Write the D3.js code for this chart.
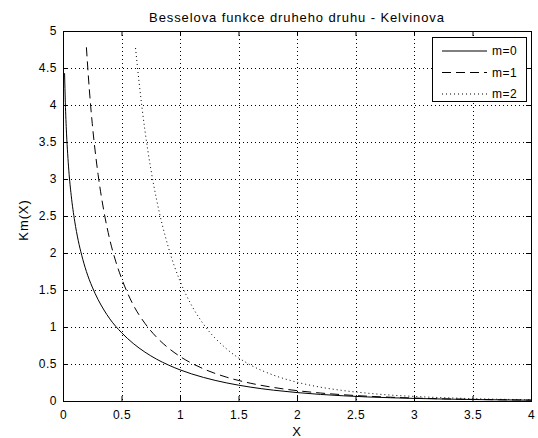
<!DOCTYPE html>
<html>
<head>
<meta charset="utf-8">
<script src="https://cdn.jsdelivr.net/npm/d3@7"></script>
<style>
  body { margin: 0; background: #fff; }
  svg text { font-family: "Liberation Sans", Arial, sans-serif; fill: #000; }
</style>
</head>
<body>
<script>
// values
var x0 = [0.0134, 0.02, 0.03, 0.04, 0.05, 0.07, 0.1, 0.13, 0.16, 0.2, 0.25, 0.3, 0.35, 0.4, 0.5,
          0.6, 0.7, 0.8, 0.9, 1.0, 1.2, 1.4, 1.6, 1.8, 2.0, 2.2, 2.4, 2.6, 2.8, 3.0, 3.5, 4.0];
var k0 = [4.43, 4.03, 3.62, 3.34, 3.11, 2.78, 2.43, 2.17, 1.97, 1.75, 1.54, 1.37, 1.23, 1.11, 0.924,
          0.778, 0.661, 0.565, 0.487, 0.421, 0.319, 0.244, 0.188, 0.146, 0.114, 0.089, 0.070, 0.055, 0.044, 0.035, 0.020, 0.011];

var x1 = [0.2, 0.225, 0.25, 0.3, 0.35, 0.4, 0.45, 0.5, 0.6, 0.7, 0.8, 0.9, 1.0, 1.2, 1.4, 1.6,
          1.8, 2.0, 2.2, 2.4, 2.6, 2.8, 3.0, 3.5, 4.0];
var k1 = [4.78, 4.21, 3.75, 3.06, 2.56, 2.18, 1.89, 1.66, 1.30, 1.05, 0.862, 0.717, 0.602, 0.435, 0.321, 0.241,
          0.183, 0.140, 0.108, 0.084, 0.065, 0.051, 0.040, 0.022, 0.0125];

var x2 = [0.62, 0.65, 0.7, 0.75, 0.8, 0.9, 1.0, 1.1, 1.2, 1.4, 1.6, 1.8, 2.0, 2.2, 2.4, 2.6,
          2.8, 3.0, 3.5, 4.0];
var k2 = [4.77, 4.31, 3.66, 3.14, 2.72, 2.08, 1.62, 1.29, 1.04, 0.702, 0.489, 0.349, 0.254, 0.187, 0.140, 0.106,
          0.080, 0.062, 0.032, 0.017];

var seriesNames = ["m=0", "m=1", "m=2"];
var xTicks = [0, 0.5, 1, 1.5, 2, 2.5, 3, 3.5, 4];
var yTicks = [0, 0.5, 1, 1.5, 2, 2.5, 3, 3.5, 4, 4.5, 5];

var W = 538, H = 438;
var plotL = 63, plotR = 531, plotT = 31, plotB = 401;

var svg = d3.select("body").append("svg")
    .attr("width", W).attr("height", H);

svg.append("rect").attr("width", W).attr("height", H).attr("fill", "#fff");

var x = d3.scaleLinear().domain([0, 4]).range([plotL, plotR]);
var y = d3.scaleLinear().domain([0, 5]).range([plotB, plotT]);

// grid
var grid = svg.append("g").attr("stroke", "#000").attr("stroke-width", 1)
    .attr("stroke-dasharray", "1,3").attr("shape-rendering", "crispEdges");
grid.selectAll(".gx").data(xTicks.slice(1, -1)).enter().append("line")
    .attr("x1", function (d) { return Math.round(x(d)) + 0.5; })
    .attr("x2", function (d) { return Math.round(x(d)) + 0.5; })
    .attr("y1", plotT).attr("y2", plotB);
grid.selectAll(".gy").data(yTicks.slice(1, -1)).enter().append("line")
    .attr("y1", function (d) { return Math.round(y(d)) + 0.5; })
    .attr("y2", function (d) { return Math.round(y(d)) + 0.5; })
    .attr("x1", plotL).attr("x2", plotR);

// axes, ticks pointing inward on all four sides
function styleAxis(g) {
  g.select(".domain").remove();
  g.selectAll("line").attr("stroke", "#000");
  g.selectAll("text").attr("font-size", 12).attr("letter-spacing", 0.5)
      .attr("font-family", "Liberation Sans, Arial, sans-serif");
}
svg.append("g").attr("transform", "translate(0," + plotB + ")")
    .call(d3.axisBottom(x).tickValues(xTicks).tickSizeInner(-5).tickPadding(9).tickFormat(d3.format("")))
    .call(styleAxis);
svg.append("g").attr("transform", "translate(0," + plotT + ")")
    .call(d3.axisTop(x).tickValues(xTicks).tickSizeInner(-5).tickFormat(""))
    .call(styleAxis);
svg.append("g").attr("transform", "translate(" + plotL + ",0)")
    .call(d3.axisLeft(y).tickValues(yTicks).tickSizeInner(-5).tickPadding(6).tickFormat(d3.format("")))
    .call(styleAxis);
svg.append("g").attr("transform", "translate(" + plotR + ",0)")
    .call(d3.axisRight(y).tickValues(yTicks).tickSizeInner(-5).tickFormat(""))
    .call(styleAxis);

svg.append("rect")
    .attr("x", plotL + 0.5).attr("y", plotT + 0.5)
    .attr("width", plotR - plotL).attr("height", plotB - plotT)
    .attr("fill", "none").attr("stroke", "#000");

// curves
var dashes = [null, "9,5", "1,3"];
var series = [
  { xs: x0, ys: k0 },
  { xs: x1, ys: k1 },
  { xs: x2, ys: k2 }
];
var line = d3.line()
    .x(function (d) { return x(d[0]); })
    .y(function (d) { return y(d[1]); })
    .curve(d3.curveMonotoneX);

series.forEach(function (s, i) {
  svg.append("path")
      .datum(d3.zip(s.xs, s.ys))
      .attr("d", line)
      .attr("fill", "none")
      .attr("stroke", "#000")
      .attr("stroke-width", 1)
      .attr("stroke-dasharray", dashes[i]);
});

// legend
var lg = svg.append("g");
lg.append("rect")
    .attr("x", 432.5).attr("y", 37.5).attr("width", 94).attr("height", 64)
    .attr("fill", "#fff").attr("stroke", "#000");
seriesNames.forEach(function (name, i) {
  var ly = 51 + i * 21.5;
  lg.append("line")
      .attr("x1", 442).attr("x2", 487).attr("y1", ly).attr("y2", ly)
      .attr("stroke", "#000").attr("stroke-dasharray", dashes[i]);
  lg.append("text").attr("x", 492).attr("y", ly).attr("dy", "0.35em")
      .attr("font-size", 12).attr("letter-spacing", 0.5).text(name);
});

// labels
svg.append("text").attr("x", (plotL + plotR) / 2).attr("y", 17).attr("dy", "0.35em")
    .attr("font-size", 13).attr("letter-spacing", 0.9)
    .attr("text-anchor", "middle").text("Besselova funkce druheho druhu - Kelvinova");
svg.append("text").attr("x", (plotL + plotR) / 2).attr("y", 431).attr("dy", "0.35em")
    .attr("font-size", 13).attr("letter-spacing", 0.9)
    .attr("text-anchor", "middle").text("X");
svg.append("text").attr("transform", "translate(23,220) rotate(-90)").attr("dy", "0.35em")
    .attr("font-size", 13).attr("letter-spacing", 0.9)
    .attr("text-anchor", "middle").text("Km(X)");
</script>
</body>
</html>
